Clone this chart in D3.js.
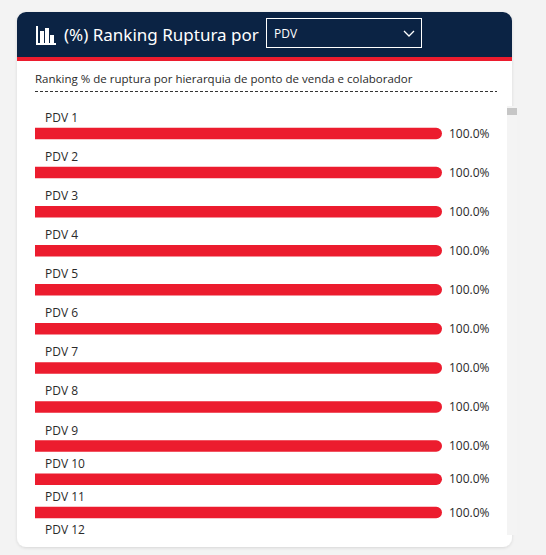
<!DOCTYPE html>
<html>
<head>
<meta charset="utf-8">
<script src="https://cdn.jsdelivr.net/npm/d3@7"></script>
<style>
  html, body { margin: 0; padding: 0; background: #f3f3f3; }
  svg { display: block; }
</style>
</head>
<body>
<div id="chart"></div>
<script>
// chart data
const categories = ['PDV 1', 'PDV 2', 'PDV 3', 'PDV 4', 'PDV 5', 'PDV 6',
  'PDV 7', 'PDV 8', 'PDV 9', 'PDV 10', 'PDV 11', 'PDV 12'];
const values = [100, 100, 100, 100, 100, 100, 100, 100, 100, 100, 100, 100];
const title = '(%) Ranking Ruptura por';
const dropdownValue = 'PDV';
const subtitle = 'Ranking % de ruptura por hierarquia de ponto de venda e colaborador';

const width = 546, height = 555;
const card = {x: 17, y: 12, w: 495, h: 535};
const navy = '#0b2344';
const red = '#ec1c2e';
const textFont = '"Open Sans", "Noto Sans", sans-serif';
const textColor = '#2a2a2a';

const svg = d3.select('#chart').append('svg')
  .attr('width', width)
  .attr('height', height);

const defs = svg.append('defs');
defs.append('filter').attr('id', 'shadow')
  .attr('x', -0.05).attr('y', -0.05).attr('width', 1.1).attr('height', 1.1)
  .append('feDropShadow')
  .attr('dx', 0).attr('dy', 1).attr('stdDeviation', 1.5)
  .attr('flood-color', '#000').attr('flood-opacity', 0.12);

defs.append('clipPath').attr('id', 'cardClip')
  .append('rect')
  .attr('x', card.x).attr('y', card.y)
  .attr('width', card.w).attr('height', card.h)
  .attr('rx', 9);

// list viewport
defs.append('clipPath').attr('id', 'listClip')
  .append('rect')
  .attr('x', card.x).attr('y', 100)
  .attr('width', 485).attr('height', 437);

// card
svg.append('rect')
  .attr('x', card.x).attr('y', card.y)
  .attr('width', card.w).attr('height', card.h)
  .attr('rx', 9)
  .attr('fill', '#fff')
  .attr('filter', 'url(#shadow)');

const cardG = svg.append('g').attr('clip-path', 'url(#cardClip)');

// header
cardG.append('rect')
  .attr('x', card.x).attr('y', card.y)
  .attr('width', card.w).attr('height', 46)
  .attr('fill', navy);
cardG.append('rect')
  .attr('x', card.x).attr('y', 57)
  .attr('width', card.w).attr('height', 4)
  .attr('fill', red);

// bar chart icon
const icon = svg.append('g').attr('transform', 'translate(36,26)');
icon.append('path')
  .attr('d', 'M1,0 V18 H20')
  .attr('fill', 'none')
  .attr('stroke', '#fff')
  .attr('stroke-width', 2);
[[4, 5, 12], [9, 2, 15], [14, 9, 8]].forEach(([x, y, h]) => {
  icon.append('rect')
    .attr('x', x).attr('y', y)
    .attr('width', 4).attr('height', h)
    .attr('fill', '#fff');
});

svg.append('text')
  .attr('x', 64).attr('y', 41)
  .attr('fill', '#fff')
  .attr('font-family', '"Noto Sans", "Open Sans", sans-serif')
  .attr('font-size', 17)
  .text(title);

// dropdown
svg.append('rect')
  .attr('x', 266.5).attr('y', 18.5)
  .attr('width', 155).attr('height', 29)
  .attr('fill', 'none')
  .attr('stroke', '#fff')
  .attr('stroke-width', 1);
svg.append('text')
  .attr('x', 274).attr('y', 37.5)
  .attr('fill', '#fff')
  .attr('font-family', textFont)
  .attr('font-size', 12)
  .text(dropdownValue);
svg.append('path')
  .attr('d', 'M404,31 L409,36 L414,31')
  .attr('fill', 'none')
  .attr('stroke', '#fff')
  .attr('stroke-width', 1.3);

// subtitle + dashed rule
svg.append('text')
  .attr('x', 35).attr('y', 83)
  .attr('fill', textColor)
  .attr('font-family', textFont)
  .attr('font-size', 11.5)
  .text(subtitle);
svg.append('line')
  .attr('x1', 35).attr('x2', 497)
  .attr('y1', 91.5).attr('y2', 91.5)
  .attr('stroke', '#333')
  .attr('stroke-width', 1)
  .attr('stroke-dasharray', '3,2');

// scrollbar
svg.append('rect')
  .attr('x', 507).attr('y', 106)
  .attr('width', 10).attr('height', 429)
  .attr('fill', '#f4f4f4');
svg.append('rect')
  .attr('x', 507).attr('y', 108)
  .attr('width', 10).attr('height', 7)
  .attr('fill', '#c6c6c6');

// scales
const x = d3.scaleLinear()
  .domain([0, 100])
  .range([35, 442]);

// row centres (spacing tightens towards the bottom of the viewport)
const y = d3.scaleLinear()
  .domain([0, 8, 10])
  .range([133.5, 446, 512.5]);

const barH = 11.5;

const list = svg.append('g').attr('clip-path', 'url(#listClip)');

const rows = list.selectAll('g.row')
  .data(categories.map((c, i) => ({name: c, value: values[i], i})))
  .enter().append('g')
  .attr('class', 'row')
  .attr('transform', d => 'translate(0,' + y(d.i) + ')');

rows.append('text')
  .attr('x', 45)
  .attr('y', -11.5)
  .attr('fill', textColor)
  .attr('font-family', textFont)
  .attr('font-size', 12)
  .text(d => d.name);

// bar with a rounded right end, flat left end
rows.append('path')
  .attr('fill', red)
  .attr('d', d => {
    const x0 = x(0), x1 = x(d.value), r = barH / 2;
    return 'M' + x0 + ',' + (-r) + ' H' + (x1 - r) +
      ' A' + r + ',' + r + ' 0 0 1 ' + (x1 - r) + ',' + r +
      ' H' + x0 + ' Z';
  });

rows.append('text')
  .attr('x', d => x(d.value) + 7)
  .attr('y', 0)
  .attr('dy', '0.35em')
  .attr('fill', textColor)
  .attr('font-family', textFont)
  .attr('font-size', 12)
  .text(d => d3.format('.1f')(d.value) + '%');
</script>
</body>
</html>
